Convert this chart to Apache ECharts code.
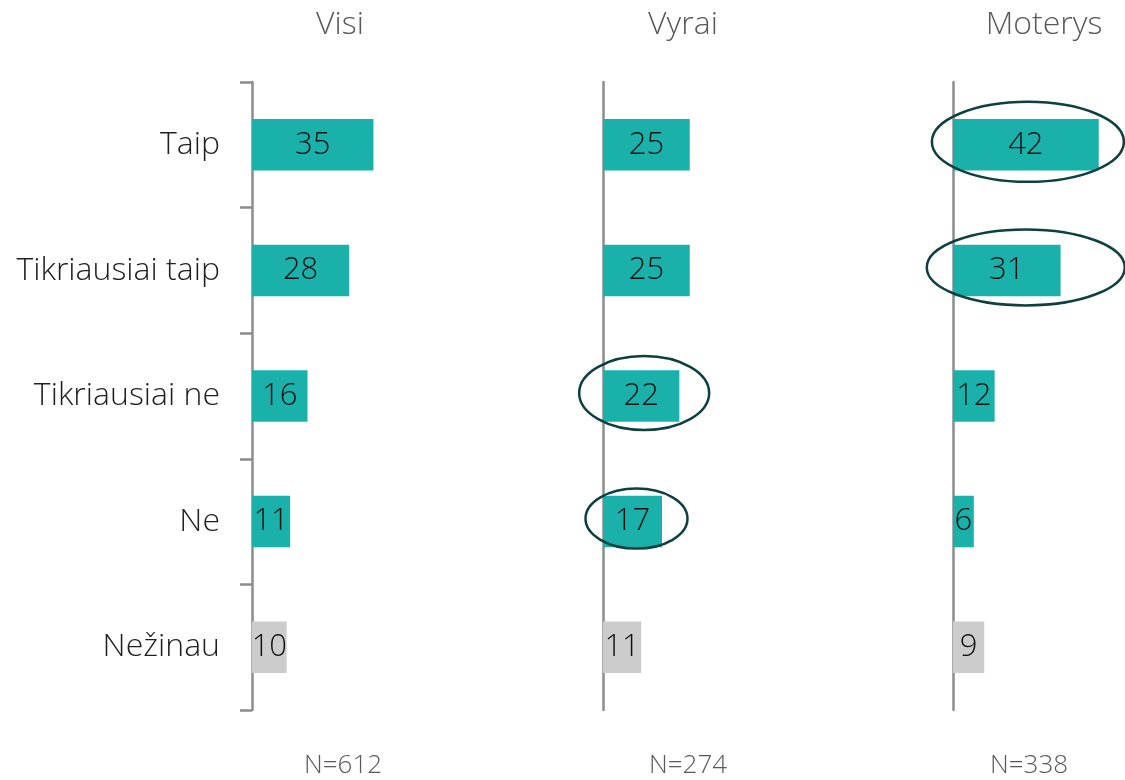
<!DOCTYPE html>
<html><head><meta charset="utf-8">
<script src="https://cdn.jsdelivr.net/npm/echarts@6/dist/echarts.min.js"></script>
<style>html,body{margin:0;padding:0;background:#fff}#c{width:1125px;height:780px}</style>
</head><body><div id="c"></div>
<script>
const categories = ['Taip', 'Tikriausiai taip', 'Tikriausiai ne', 'Ne', 'Nežinau'];
const panelTitles = ['Visi', 'Vyrai', 'Moterys'];
const sampleSizes = ['N=612', 'N=274', 'N=338'];
const visi = [35, 28, 16, 11, 10];
const vyrai = [25, 25, 22, 17, 11];
const moterys = [42, 31, 12, 6, 9];
const panels = [visi, vyrai, moterys];
// highlighted cells: [panel index, category index]
const highlights = [[2, 0], [2, 1], [1, 2], [1, 3]];
const highlightSize = [[96, 40, 2], [99, 38, 19], [65, 37, 3], [51, 30, 4]]; // rx, ry, dx

const FONT = '"Open Sans", "Noto Sans", sans-serif';
const TEAL = '#1bb1ab', GREY = '#cccccc';
const gridLefts = [252, 603, 953];
const PX_PER_UNIT = 3.47;
const chart = echarts.init(document.getElementById('c'));

const grids = [], xAxes = [], yAxes = [], series = [];
panels.forEach((vals, i) => {
  const w = Math.min(347, 1125 - gridLefts[i]);
  grids.push({left: gridLefts[i], width: w, top: 82, height: 628, containLabel: false});
  xAxes.push({gridIndex: i, type: 'value', min: 0, max: w / PX_PER_UNIT, show: false});
  yAxes.push({
    gridIndex: i, type: 'category', data: categories, inverse: true,
    axisLine: {show: true, lineStyle: {color: '#8c8c8c', width: 2.5}},
    axisTick: {show: i === 0, length: 12, lineStyle: {color: '#8c8c8c', width: 2.5}},
    axisLabel: {show: i === 0, fontSize: 32, fontWeight: 300, fontFamily: FONT, color: '#1f1f1f', margin: 32},
    splitLine: {show: false}
  });
  series.push({
    type: 'bar', xAxisIndex: i, yAxisIndex: i, barWidth: '41%',
    data: vals.map((v, k) => ({value: v, itemStyle: {color: k === categories.length - 1 ? GREY : TEAL}})),
    label: {show: true, position: 'inside', fontSize: 31, fontWeight: 300, fontFamily: FONT, color: '#111'},
    silent: true, animation: false
  });
});

chart.setOption({animation: false, grid: grids, xAxis: xAxes, yAxis: yAxes, series: series});

const graphics = [];
const titleX = [340, 683, 1044];
const nX = [343, 688, 1029];
panelTitles.forEach((t, i) => {
  graphics.push({type: 'text', x: titleX[i], y: 25, style: {text: t, fill: '#595959', font: '300 32px ' + FONT, textAlign: 'center', textVerticalAlign: 'middle'}});
  graphics.push({type: 'text', x: nX[i], y: 766, style: {text: sampleSizes[i], fill: '#595959', font: '300 26px ' + FONT, textAlign: 'center', textVerticalAlign: 'middle'}});
});
highlights.forEach(([p, c], j) => {
  const v = panels[p][c];
  const pt = chart.convertToPixel({xAxisIndex: p, yAxisIndex: p}, [v / 2, categories[c]]);
  const [rx, ry, dx] = highlightSize[j];
  graphics.push({type: 'ellipse', shape: {cx: pt[0] + dx, cy: pt[1] - 3, rx: rx, ry: ry},
    style: {fill: 'none', stroke: '#0e4040', lineWidth: 2.5}, z: 10});
});
chart.setOption({graphic: graphics});
</script></body></html>
